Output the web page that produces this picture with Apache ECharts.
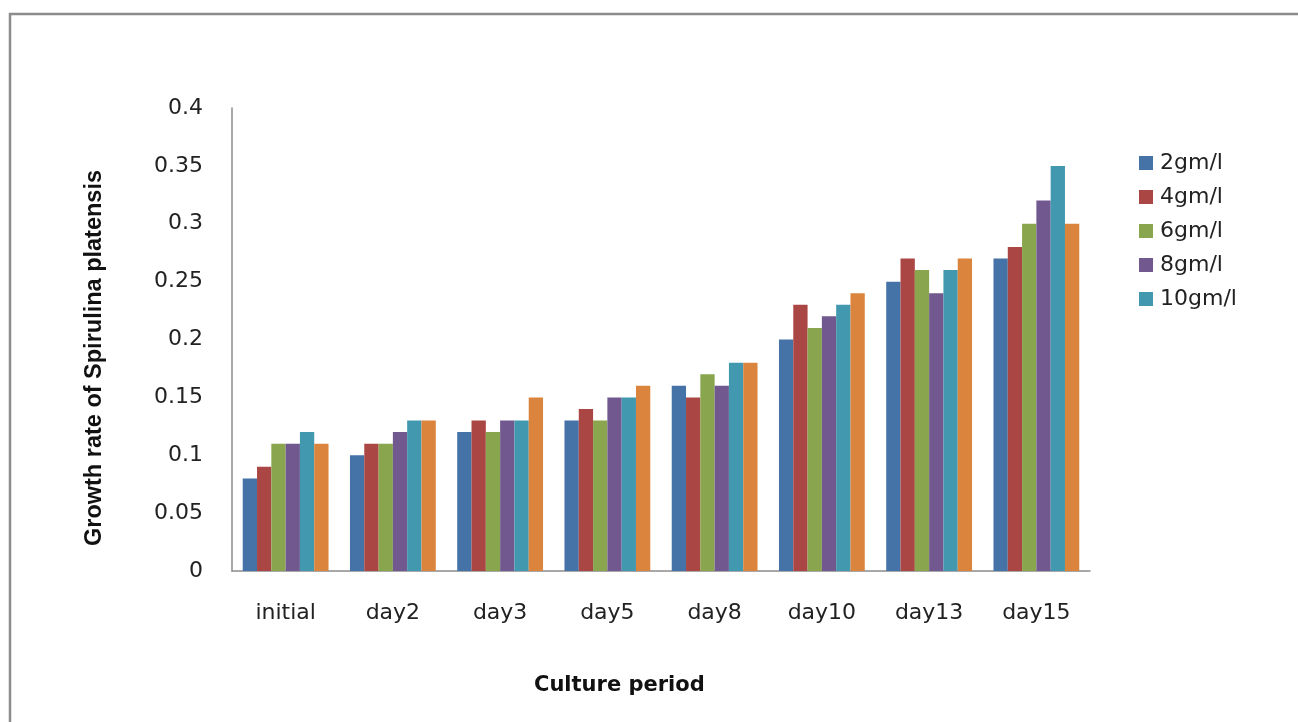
<!DOCTYPE html>
<html>
<head>
<meta charset="utf-8">
<title>Growth rate of Spirulina platensis</title>
<script src="https://cdn.jsdelivr.net/npm/echarts@6/dist/echarts.min.js"></script>
<style>
  html, body { margin: 0; padding: 0; background: #fff; }
  #main { width: 1298px; height: 722px; }
</style>
</head>
<body>
<div id="main"></div>
<script>
var myChart = echarts.init(document.getElementById('main'));

// 培养天数
var categories = ['initial', 'day2', 'day3', 'day5', 'day8', 'day10', 'day13', 'day15'];
// 各浓度
var seriesNames = ['2gm/l', '4gm/l', '6gm/l', '8gm/l', '10gm/l', '12gm/l'];
var legendNames = ['2gm/l', '4gm/l', '6gm/l', '8gm/l', '10gm/l'];
var g2 = [0.08, 0.10, 0.12, 0.13, 0.16, 0.20, 0.25, 0.27];
var g4 = [0.09, 0.11, 0.13, 0.14, 0.15, 0.23, 0.27, 0.28];
var g6 = [0.11, 0.11, 0.12, 0.13, 0.17, 0.21, 0.26, 0.30];
var g8 = [0.11, 0.12, 0.13, 0.15, 0.16, 0.22, 0.24, 0.32];
var g10 = [0.12, 0.13, 0.13, 0.15, 0.18, 0.23, 0.26, 0.35];
var g12 = [0.11, 0.13, 0.15, 0.16, 0.18, 0.24, 0.27, 0.30];
var seriesData = [g2, g4, g6, g8, g10, g12];

var colors = ['#4572A7', '#AA4643', '#89A54E', '#71588F', '#4198AF', '#DB843D'];
var txtFont = 'DejaVu Sans';

var series = [];
for (var i = 0; i < seriesNames.length; i++) {
  series.push({
    name: seriesNames[i],
    type: 'bar',
    barGap: '0%',
    barCategoryGap: '20%',
    itemStyle: {
      color: colors[i]
    },
    data: seriesData[i]
  });
}

var option = {
  animation: false,
  color: colors,
  grid: {
    left: 232,
    top: 108,
    right: 208,
    bottom: 151
  },
  legend: {
    orient: 'vertical',
    left: 1134,
    top: 147,
    itemWidth: 14,
    itemHeight: 14,
    itemGap: 12,
    icon: 'rect',
    data: legendNames,
    textStyle: {
      color: '#222',
      fontSize: 22,
      fontFamily: txtFont,
      padding: [0, 0, 0, 2]
    }
  },
  xAxis: {
    type: 'category',
    data: categories,
    axisTick: { show: false },
    axisLine: { lineStyle: { color: '#8c8c8c', width: 1.5 } },
    axisLabel: {
      color: '#222',
      fontSize: 22,
      fontFamily: txtFont,
      margin: 31
    }
  },
  yAxis: {
    type: 'value',
    min: 0,
    max: 0.4,
    interval: 0.05,
    splitLine: { show: false },
    axisTick: { show: false },
    axisLine: { show: true, lineStyle: { color: '#8c8c8c', width: 1.5 } },
    axisLabel: {
      color: '#222',
      fontSize: 22,
      fontFamily: txtFont,
      margin: 29
    }
  },
  graphic: [
    // 外框 (只有上边和左边)
    {
      type: 'polyline',
      shape: { points: [[10, 722], [10, 14], [1298, 14]] },
      style: { stroke: '#8c8c8c', lineWidth: 2.5, fill: null }
    },
    {
      type: 'text',
      left: 534,
      top: 675,
      style: {
        text: 'Culture period',
        fill: '#111',
        font: 'bold 21px ' + txtFont
      }
    },
    {
      type: 'text',
      x: 83,
      y: 358,
      rotation: Math.PI / 2,
      style: {
        text: 'Growth rate of Spirulina platensis',
        fill: '#111',
        font: 'bold 23.5px "Liberation Sans"',
        align: 'center',
        verticalAlign: 'top'
      }
    }
  ],
  series: series
};

myChart.setOption(option);
</script>
</body>
</html>
